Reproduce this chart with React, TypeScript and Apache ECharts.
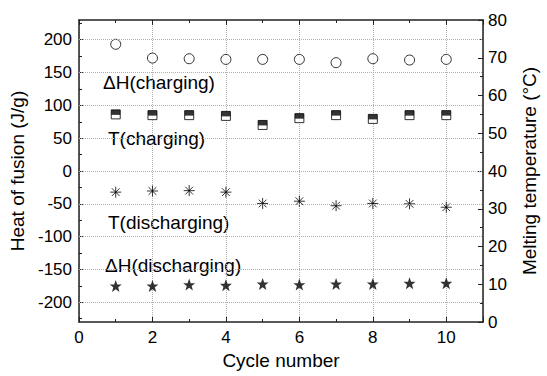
import React, { useEffect, useRef } from "react";
import * as echarts from "echarts";

const cycles = [1, 2, 3, 4, 5, 6, 7, 8, 9, 10];
const dhCharging = [193, 172, 171, 170, 170, 170, 165, 171, 169, 170];
const tCharging = [55.0, 54.8, 54.8, 54.6, 52.2, 54.0, 54.8, 53.8, 54.8, 54.8];
const tDischarging = [34.4, 34.7, 34.8, 34.4, 31.4, 32.0, 30.8, 31.4, 31.3, 30.4];
const dhDischarging = [-175, -175, -173, -174, -172, -173, -172, -172, -171, -171];

const leftMajorTicks = [-200, -150, -100, -50, 0, 50, 100, 150, 200];
const leftMinorTicks = [-225, -175, -125, -75, -25, 25, 75, 125, 175, 225];

const FONT = "'Liberation Sans', Arial, sans-serif";
const AX = "#222";

const STAR =
  "path://M5,0L6.25,3.45L9.76,3.45L6.95,5.6L7.94,9.05L5,7L2.06,9.05L3.05,5.6L0.24,3.45L3.75,3.45Z";
const ASTER = "path://M5,0L5,10M0,5L10,5M1.5,1.5L8.5,8.5M8.5,1.5L1.5,8.5";
const HALF = "path://M0,0L10,0L10,5L0,5Z";

const pairs = (ys: number[]) => cycles.map((c, i) => [c, ys[i]]);

export default function App() {
  const ref = useRef<HTMLDivElement>(null);
  useEffect(() => {
    if (!ref.current) return;
    const chart = echarts.init(ref.current, null, { renderer: "svg" });
    const tickLabel = { color: "#000", fontSize: 17, fontFamily: FONT };
    const nameStyle = { color: "#000", fontSize: 19, fontFamily: FONT };
    const axisLine = { show: true, onZero: false, lineStyle: { color: AX, width: 1.5 } };
    const annot = (text: string, x: number, y: number) => ({
      type: "text",
      x,
      y,
      style: { text, fill: "#000", fontSize: 19, fontFamily: FONT, align: "left", verticalAlign: "middle" },
    });
    chart.setOption({
      animation: false,
      grid: { left: 79, right: 55, top: 20, bottom: 54 },
      xAxis: [
        {
          type: "value",
          min: 0,
          max: 11,
          interval: 2,
          position: "bottom",
          name: "Cycle number",
          nameLocation: "middle",
          nameGap: 27,
          nameTextStyle: nameStyle,
          axisLine,
          axisTick: { show: true, inside: true, length: 5, lineStyle: { color: AX } },
          minorTick: { show: true, splitNumber: 2, length: 3, lineStyle: { color: AX } },
          axisLabel: { ...tickLabel, margin: 7, showMaxLabel: false },
          splitLine: { show: true, lineStyle: { type: "dotted", color: "#b0b0b0", width: 1 } },
        },
        {
          type: "value",
          min: 0,
          max: 11,
          interval: 2,
          position: "top",
          axisLine,
          axisTick: { show: true, inside: true, length: 5, lineStyle: { color: AX } },
          minorTick: { show: true, splitNumber: 2, length: 3, lineStyle: { color: AX } },
          axisLabel: { show: false },
          splitLine: { show: false },
        },
      ],
      yAxis: [
        {
          type: "value",
          min: -230,
          max: 230,
          position: "left",
          name: "Heat of fusion (J/g)",
          nameLocation: "middle",
          nameGap: 38,
          nameTextStyle: nameStyle,
          axisLine,
          axisTick: { show: true, inside: true, length: 5, customValues: leftMajorTicks, lineStyle: { color: AX } },
          axisLabel: { ...tickLabel, margin: 7, customValues: leftMajorTicks },
          splitLine: { show: false },
        },
        {
          type: "value",
          min: 0,
          max: 80,
          interval: 10,
          position: "right",
          name: "Melting temperature (°C)",
          nameLocation: "middle",
          nameGap: 37,
          nameTextStyle: nameStyle,
          axisLine,
          axisTick: { show: true, inside: true, length: 5, lineStyle: { color: AX } },
          minorTick: { show: true, splitNumber: 2, length: 3, lineStyle: { color: AX } },
          axisLabel: { ...tickLabel, margin: 5 },
          splitLine: { show: false },
        },
        {
          type: "value",
          min: -230,
          max: 230,
          position: "left",
          axisLine: { show: false, onZero: false },
          axisTick: { show: true, inside: true, length: 3, customValues: leftMinorTicks, lineStyle: { color: AX } },
          axisLabel: { show: false },
          splitLine: { show: false },
        },
      ],
      graphic: [
        annot("ΔH(charging)", 103, 82),
        annot("T(charging)", 108, 138),
        annot("T(discharging)", 108, 222),
        annot("ΔH(discharging)", 105, 265),
      ],
      series: [
        {
          name: "ΔH(charging)",
          type: "scatter",
          yAxisIndex: 0,
          data: pairs(dhCharging),
          symbol: "circle",
          symbolSize: 10,
          itemStyle: { color: "#fff", borderColor: "#000", borderWidth: 1 },
          markLine: {
            silent: true,
            symbol: ["none", "none"],
            label: { show: false },
            lineStyle: { type: "dotted", color: "#b0b0b0", width: 1 },
            data: leftMajorTicks.map((v) => ({ yAxis: v })),
          },
          z: 3,
        },
        {
          name: "T(charging)",
          type: "scatter",
          yAxisIndex: 1,
          data: pairs(tCharging),
          symbol: "rect",
          symbolSize: 9,
          itemStyle: { color: "#fff", borderColor: "#000", borderWidth: 1 },
          z: 3,
        },
        {
          name: "T(charging) top",
          type: "scatter",
          yAxisIndex: 1,
          data: pairs(tCharging),
          symbol: HALF,
          symbolKeepAspect: false,
          symbolSize: [9, 5],
          symbolOffset: [0, -2],
          itemStyle: { color: "#000" },
          z: 4,
        },
        {
          name: "T(discharging)",
          type: "scatter",
          yAxisIndex: 1,
          data: pairs(tDischarging),
          symbol: ASTER,
          symbolSize: 11,
          itemStyle: { color: "transparent", borderColor: "#000", borderWidth: 1 },
          z: 3,
        },
        {
          name: "ΔH(discharging)",
          type: "scatter",
          yAxisIndex: 0,
          data: pairs(dhDischarging),
          symbol: STAR,
          symbolSize: 12,
          itemStyle: { color: "#000" },
          z: 3,
        },
      ],
    });
    return () => chart.dispose();
  }, []);
  return (
    <div
      ref={ref}
      style={{ position: "fixed", left: 0, top: 0, width: 547, height: 376, background: "#fff" }}
    />
  );
}
